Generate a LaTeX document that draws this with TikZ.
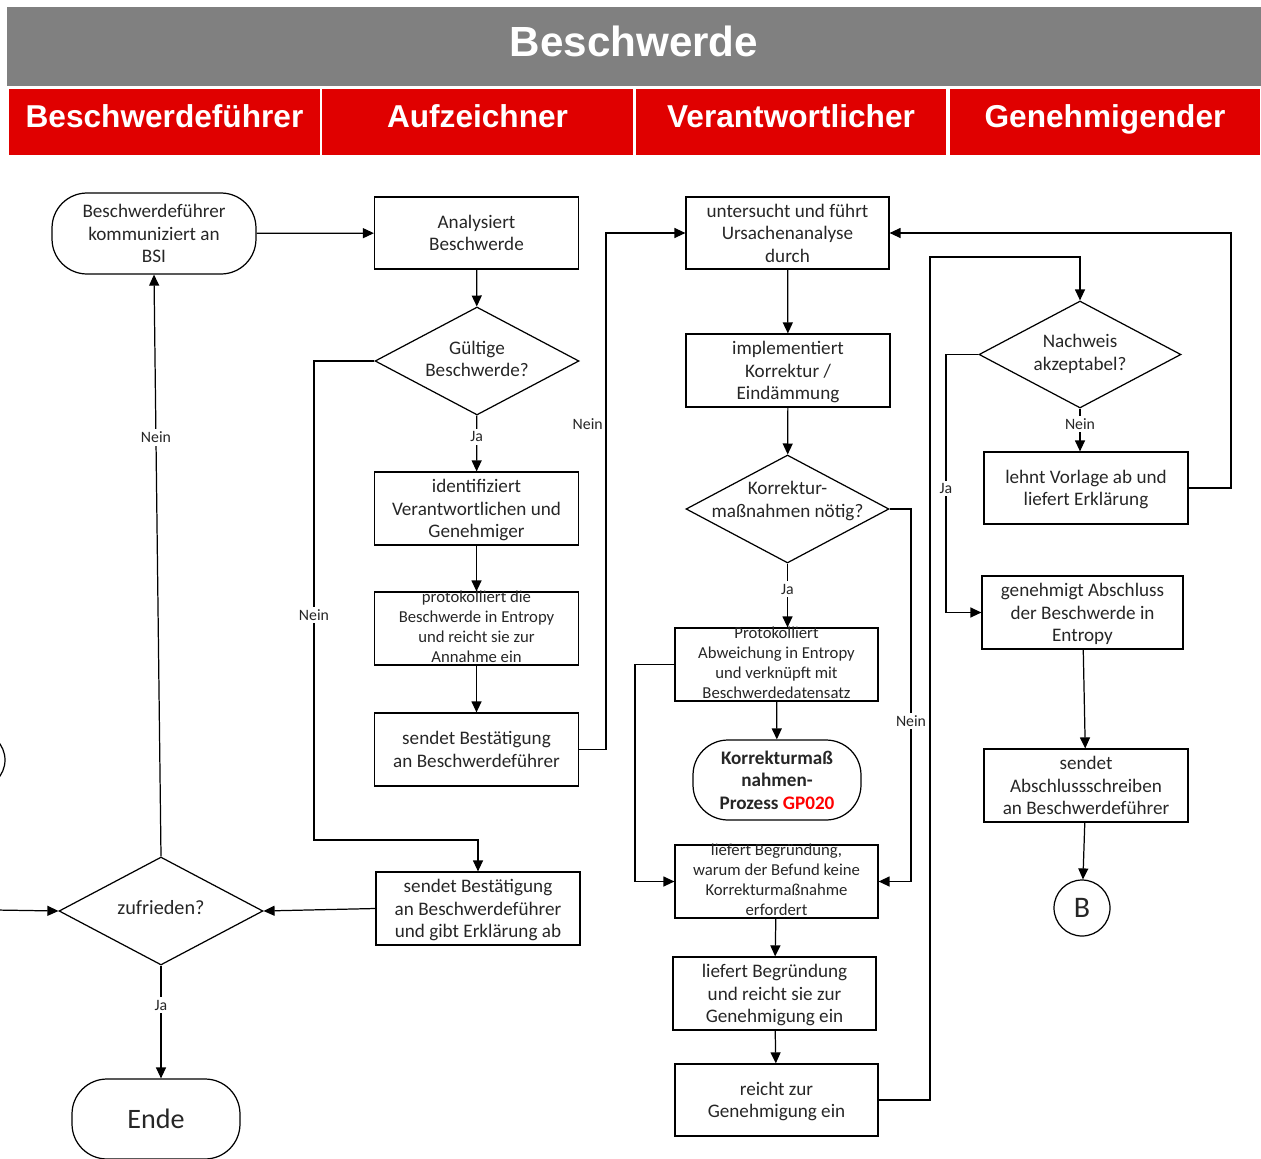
\documentclass[tikz,border=0pt]{standalone}
\usepackage{fontspec}
\setmainfont{Carlito}
\newfontfamily\headfont{Liberation Sans}
\usetikzlibrary{shapes.geometric, arrows.meta, positioning, calc}
\definecolor{hdrred}{RGB}{224,0,0}
\definecolor{hdrgray}{RGB}{128,128,128}
% text of fixed-size shapes: centred, takes no room
\newcommand{\txtdrop}{4pt}
\newcommand{\boxlines}[1]{\makebox[0pt]{\raisebox{-\txtdrop}[0pt][0pt]{\begin{tabular}{@{}c@{}}#1\end{tabular}}}}

\begin{document}
\begin{tikzpicture}[
		x=0.02cm, y=-0.02cm,
		every node/.style={text=black!85},
		proc/.style={draw, line width=0.7pt, minimum width=4.08cm, minimum height=1.46cm,
			inner sep=0pt, font=\fontsize{10.9}{12.8}\selectfont},
		small/.style={font=\fontsize{9.5}{11.3}\selectfont\def\txtdrop{2.3pt}},
		term/.style={draw, line width=0.7pt, rounded corners=0.7cm, inner sep=0pt,
			font=\fontsize{10.9}{12.8}\selectfont},
		decision/.style={diamond, draw, line width=0.7pt, aspect=1.9, inner sep=0pt,
			minimum width=4.08cm, minimum height=2.16cm, font=\fontsize{10.9}{12.8}\selectfont\def\txtdrop{2.6pt}},
		conn/.style={circle, draw, line width=0.7pt, minimum size=1.12cm, inner sep=0pt,
			font=\fontsize{17}{20}\selectfont},
		hdr/.style={fill=hdrred, text=white, minimum width=6.22cm, minimum height=1.32cm,
			text height=0.72em, text depth=0.12em, font=\headfont\bfseries\fontsize{18}{20}\selectfont},
		lbl/.style={fill=white, inner sep=1.5pt, font=\fontsize{9}{10}\selectfont},
		line/.style={line width=0.7pt},
		arr/.style={line, -{Triangle[length=0.22cm, width=0.2cm]}}
		]
		\clip (0,0) rectangle (1261,1159);
		
		% Title and lanes
		\fill[hdrgray] (7,7) rectangle (1261,86);
		\node[text=white, font=\headfont\bfseries\fontsize{24}{26}\selectfont] (title) at (634,41) {Beschwerde};
		\node[hdr] (lane1) at (164.5,122) {Beschwerdeführer};
		\node[hdr] (lane2) at (477.5,122) {Aufzeichner};
		\node[hdr] (lane3) at (791,122) {Verantwortlicher};
		\node[hdr] (lane4) at (1105,122) {Genehmigender};
		
		% Beschwerdefuehrer
		\node[term, minimum width=4.08cm, minimum height=1.62cm] (start) at (154,233.5)
		{\boxlines{Beschwerdeführer\\kommuniziert an\\BSI}};
		\node[decision, font=\fontsize{11.5}{13}\selectfont\def\txtdrop{2.6pt}] (zufr) at (161,911) {\boxlines{zufrieden?}};
		\node[term, minimum width=3.36cm, minimum height=1.6cm, font=\fontsize{16}{18}\selectfont] (ende) at (156,1119) {Ende};
		\node[conn] (offA) at (-23,760) {};
		\coordinate (links) at (-5,910);
		
		% Aufzeichner
		\node[proc, minimum height=1.44cm] (analys) at (476.5,233) {\boxlines{Analysiert\\Beschwerde}};
		\node[decision] (gueltig) at (477,361) {\boxlines{Gültige\\Beschwerde?}};
		\node[proc] (ident) at (476.5,508.5) {\boxlines{identifiziert\\Verantwortlichen und\\Genehmiger}};
		\node[proc, small] (protok) at (476.5,628.5)
		{\boxlines{protokolliert die\\Beschwerde in Entropy\\und reicht sie zur\\Annahme ein}};
		\node[proc] (bestaet) at (476.5,749.5) {\boxlines{sendet Bestätigung\\an Beschwerdeführer}};
		\node[proc] (erklaer) at (478,908.5)
		{\boxlines{sendet Bestätigung\\an Beschwerdeführer\\und gibt Erklärung ab}};
		
		% Verantwortlicher
		\node[proc, minimum width=4.06cm, minimum height=1.44cm] (ursach) at (787.5,233)
		{\boxlines{untersucht und führt\\Ursachenanalyse\\durch}};
		\node[proc] (implem) at (788,370.5) {\boxlines{implementiert\\Korrektur /\\Eindämmung}};
		\node[decision, minimum width=4.06cm, font=\fontsize{10.9}{12.8}\selectfont\def\txtdrop{-1.4pt}] (korr) at (787.5,509)
		{\boxlines{Korrektur-\\maßnahmen nötig?}};
		\node[proc, small, minimum width=4.06cm] (abweich) at (776.5,664.5)
		{\boxlines{Protokolliert\\Abweichung in Entropy\\und verknüpft mit\\Beschwerdedatensatz}};
		\node[term, minimum width=3.36cm, minimum height=1.6cm, font=\bfseries\fontsize{10.9}{12.8}\selectfont] (gp) at (777,780)
		{\boxlines{Korrekturmaß\\nahmen-\\Prozess \textcolor{red}{GP020}}};
		\node[proc, small, minimum width=4.06cm] (begruend) at (776.5,881.5)
		{\boxlines{liefert Begründung,\\warum der Befund keine\\Korrekturmaßnahme\\erfordert}};
		\node[proc, minimum width=4.06cm] (liefert) at (774.5,993.5)
		{\boxlines{liefert Begründung\\und reicht sie zur\\Genehmigung ein}};
		\node[proc, minimum width=4.06cm, minimum height=1.44cm] (reicht) at (776.5,1100)
		{\boxlines{reicht zur\\Genehmigung ein}};
		
		% Genehmigender
		\node[decision, minimum width=4.04cm, minimum height=2.14cm] (nachweis) at (1080,354.5)
		{\boxlines{Nachweis\\akzeptabel?}};
		\node[proc, minimum height=1.44cm] (lehnt) at (1086,488) {\boxlines{lehnt Vorlage ab und\\liefert Erklärung}};
		\node[proc, minimum width=4.02cm] (genehm) at (1082.5,612.5)
		{\boxlines{genehmigt Abschluss\\der Beschwerde in\\Entropy}};
		\node[proc] (abschl) at (1086,785.5) {\boxlines{sendet\\Abschlussschreiben\\an Beschwerdeführer}};
		\node[conn] (B) at (1082,908) {B};
		
		% Arrows
		\draw[arr] (start) -- (analys);
		\draw[arr] (analys) -- (gueltig);
		\draw[arr] (gueltig) -- node[lbl, pos=0.38]{Ja} (ident);
		\draw[arr] (ident) -- (protok);
		\draw[arr] (protok) -- (bestaet);
		\draw[arr] (bestaet.east) -- (606,749.5) -- node[lbl, pos=0.63, left]{Nein} (606,233) -- (ursach.west);
		\draw[arr] (gueltig.west) -- (314,361) -- node[lbl, pos=0.53]{Nein} (314,840) -| (erklaer.north);
		\draw[arr] (erklaer.west) -- (zufr.east);
		\draw[arr] (zufr.north) -- node[lbl, pos=0.72]{Nein} (start.south);
		\draw[arr] (zufr.south) -- node[lbl, pos=0.35]{Ja} (zufr.south |- ende.north);
		\draw[arr] (links) -- (zufr.west);
		
		\draw[arr] (ursach) -- (implem);
		\draw[arr] (implem) -- (korr);
		\draw[arr] (korr.south) -- node[lbl, pos=0.4]{Ja} (korr.south |- abweich.north);
		\draw[arr] (abweich) -- (gp);
		\draw[arr] (abweich.west) -- (635,664.5) |- (begruend.west);
		\draw[arr] (korr.east) -- (911,509) -- node[lbl, pos=0.57]{Nein} (911,881.5) -- (begruend.east);
		\draw[arr] (begruend) -- (liefert);
		\draw[arr] (liefert) -- (reicht);
		\draw[arr] (reicht.east) -| (930,257) -| (nachweis.north);
		
		\draw[arr] (nachweis.south) -- node[lbl, pos=0.36]{Nein} (nachweis.south |- lehnt.north);
		\draw[arr] (lehnt.east) -| (1231,233) -- (ursach.east);
		\draw[arr] (nachweis.west) -- (946,354.5) -- node[lbl, pos=0.52]{Ja} (946,612.5) -- (genehm.west);
		\draw[arr] (genehm) -- (abschl);
		\draw[arr] (abschl) -- (B);
	\end{tikzpicture}
\end{document}
